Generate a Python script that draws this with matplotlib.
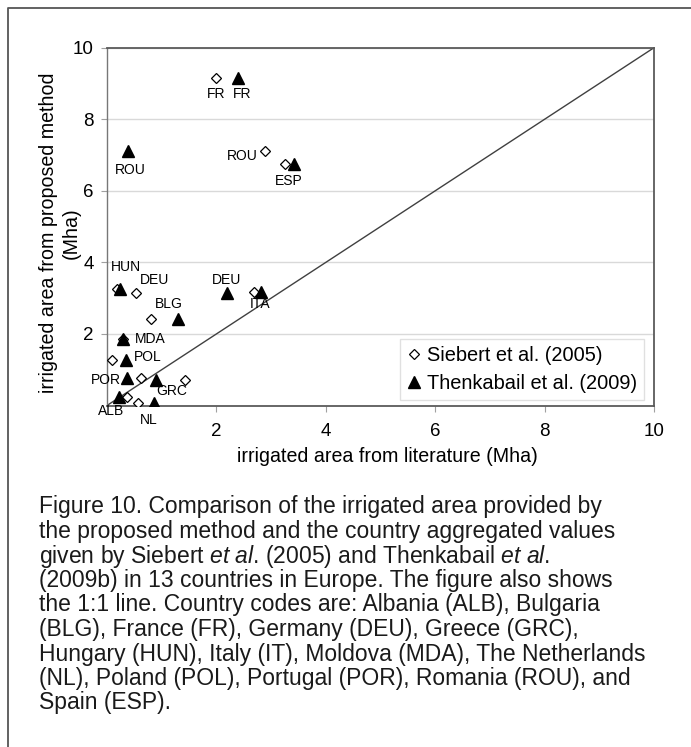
import matplotlib
matplotlib.use('Agg')
import matplotlib.pyplot as plt
from matplotlib.lines import Line2D

countries = ['FR', 'ROU', 'ESP', 'HUN', 'DEU', 'ITA', 'BLG', 'MDA', 'POL', 'POR', 'GRC', 'ALB', 'NL']
# irrigated area from the proposed method (Mha), one value per country
proposed = [9.14, 7.10, 6.75, 3.26, 3.15, 3.16, 2.42, 1.85, 1.27, 0.78, 0.72, 0.25, 0.08]
# irrigated area from literature (Mha)
siebert = [1.99, 2.89, 3.25, 0.19, 0.53, 2.69, 0.80, 0.30, 0.10, 0.63, 1.42, 0.36, 0.56]
thenkabail = [2.40, 0.38, 3.42, 0.24, 2.19, 2.82, 1.30, 0.30, 0.35, 0.36, 0.90, 0.22, 0.86]
ticks = [2, 4, 6, 8, 10]

caption = [
    'Figure 10. Comparison of the irrigated area provided by',
    'the proposed method and the country aggregated values',
    r'given by Siebert $\mathit{et\ al}$. (2005) and Thenkabail $\mathit{et\ al.}$',
    '(2009b) in 13 countries in Europe. The figure also shows',
    'the 1:1 line. Country codes are: Albania (ALB), Bulgaria',
    '(BLG), France (FR), Germany (DEU), Greece (GRC),',
    'Hungary (HUN), Italy (IT), Moldova (MDA), The Netherlands',
    '(NL), Poland (POL), Portugal (POR), Romania (ROU), and',
    'Spain (ESP).',
]

plt.rcParams['font.family'] = ['Liberation Sans', 'DejaVu Sans']
plt.rcParams['mathtext.fontset'] = 'custom'
plt.rcParams['mathtext.rm'] = 'Liberation Sans'
plt.rcParams['mathtext.it'] = 'Liberation Sans:italic'

W, H = 691, 747
fig = plt.figure(figsize=(W / 100, H / 100), dpi=100)

# frame around the figure (top and left edges)
fig.add_artist(Line2D([8 / W, 8 / W, 1], [0, 1 - 8 / H, 1 - 8 / H], color='#555555', lw=1.3))

ax = fig.add_axes([107 / W, 1 - 405.5 / H, 547 / W, 357.8 / H])
ax.set_xlim(0, 10)
ax.set_ylim(0, 10)

ax.plot([0, 10], [0, 10], color='#404040', lw=1.0, zorder=2)
ax.plot(siebert, proposed, linestyle='none', marker='D', markersize=5.4,
        markerfacecolor='white', markeredgecolor='black', markeredgewidth=0.9,
        label='Siebert et al. (2005)', zorder=3)
ax.plot(thenkabail, proposed, linestyle='none', marker='^', markersize=8,
        color='black', label='Thenkabail et al. (2009)', zorder=4)

# country codes next to the markers: (code, series, dx, dy) in pixels
labels = [
    ('FR', 's', 0, -16), ('FR', 't', 4, -16),
    ('ROU', 't', 3, -19), ('ROU', 's', -23, -5),
    ('ESP', 't', -5, -17),
    ('HUN', 't', 6, 22),
    ('DEU', 's', 19, 13), ('DEU', 't', 0, 13),
    ('ITA', 't', -1, -12),
    ('BLG', 't', -9, 15),
    ('MDA', 't', 27, 0),
    ('POL', 't', 22, 3),
    ('POR', 't', -21, -2),
    ('GRC', 't', 15, -11),
    ('ALB', 't', -8, -14),
    ('NL', 's', 11, -17),
]
for code, series, dx, dy in labels:
    i = countries.index(code)
    x = siebert[i] if series == 's' else thenkabail[i]
    ax.annotate(code, (x, proposed[i]), xytext=(dx, dy), textcoords='offset pixels',
                ha='center', va='center', fontsize=10, zorder=5)

ax.set_xticks(ticks)
ax.set_yticks(ticks)
ax.yaxis.grid(True, color='#d9d9d9', lw=1.0)
ax.set_axisbelow(True)
ax.tick_params(axis='both', direction='out', length=4.5, width=0.8, color='#a0a0a0',
               labelsize=13.5)
ax.tick_params(axis='x', pad=8)
ax.tick_params(axis='y', pad=5)
for side in ['top', 'right', 'bottom']:
    ax.spines[side].set_color('#5a5a5a')
    ax.spines[side].set_linewidth(1.3)
ax.spines['left'].set_color('#777777')
ax.spines['left'].set_linewidth(1.0)

leg = ax.legend(loc='lower right', bbox_to_anchor=(0.982, 0.015), borderaxespad=0,
                fontsize=14.4, frameon=True, fancybox=False, handlelength=0.7,
                handletextpad=0.3, borderpad=0.35, labelspacing=0.45, numpoints=1)
leg.get_frame().set_edgecolor('#d9d9d9')
leg.get_frame().set_linewidth(1.0)

fig.text(387 / W, 1 - 457 / H, 'irrigated area from literature (Mha)',
         ha='center', va='center', fontsize=14.1)
fig.text(60 / W, 1 - 233 / H, 'irrigated area from proposed method\n(Mha)',
         ha='center', va='center', rotation=90, fontsize=14.1, multialignment='center')

for k, line in enumerate(caption):
    fig.text(39 / W, 1 - (507 + 24.5 * k) / H, line, ha='left', va='center',
             fontsize=16.5, color='#1a1a1a')

fig.savefig('out.png', dpi=100)
